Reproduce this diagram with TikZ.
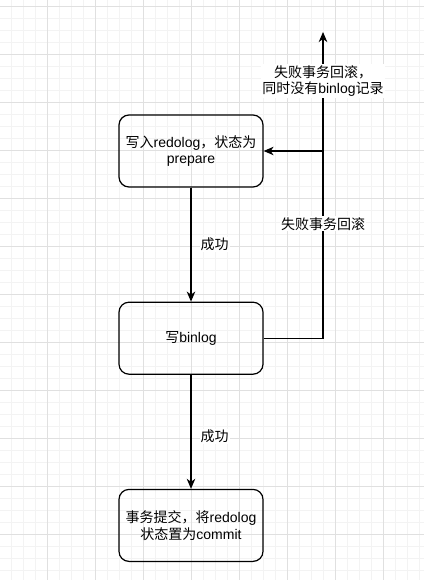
\documentclass[tikz,border=0pt]{standalone}
\usepackage{fontspec}
\setmainfont{Liberation Sans}
\newfontfamily\cjk{Noto Sans CJK SC}
\usetikzlibrary{positioning}
\usetikzlibrary{arrows.meta}
\definecolor{gridmajor}{HTML}{E0E0E0}
\definecolor{gridminor}{HTML}{F3F3F3}

\begin{document}
\begin{tikzpicture}[x=1pt, y=-1pt,
		txbox/.style={draw, line width=1.2pt, rounded corners=10pt,
			minimum width=144pt, minimum height=72pt, align=center,
			font=\fontsize{14}{16.5}\selectfont
		},
		flow/.style={line width=1.3pt, -{Stealth[length=10pt, width=8.5pt, inset=3pt]}},
		note/.style={fill=white, inner sep=1pt, align=center,
			font=\fontsize{14}{16.5}\selectfont
		}]
		
		\useasboundingbox (0,0) rectangle (424,580);
		\fill[white] (0,0) rectangle (424,580);
		
		%grid
		\foreach \gx in {11,23,...,419} \draw[gridminor] (\gx,0) -- (\gx,580);
		\foreach \gy in {6,18,...,578} \draw[gridminor] (0,\gy) -- (424,\gy);
		\foreach \gx in {47,95,...,383} \draw[gridmajor] (\gx,0) -- (\gx,580);
		\foreach \gy in {6,54,...,534} \draw[gridmajor] (0,\gy) -- (424,\gy);
		
		%steps
		\node[txbox] (write) at (191,151) {{\cjk 写入}redolog{\cjk ，状态为}\\prepare};
		\node[txbox, below=114pt of write] (binlog) {{\cjk 写}binlog};
		\node[txbox, below=114pt of binlog] (commit) {{\cjk 事务提交，将}redolog\\{\cjk 状态置为}commit};
		
		%success
		\draw[flow] (write) -- node[note, midway, anchor=west, xshift=8pt] {\cjk 成功} (binlog);
		\draw[flow] (binlog) -- node[note, pos=0.54, anchor=west, xshift=8pt] {\cjk 成功} (commit);
		
		%rollback
		\coordinate (up) at (323,32);
		\coordinate (split) at (up |- write.east);
		\draw[flow] (binlog.east) -| (up)
			node[note, pos=0.687] {\cjk 失败事务回滚}
			node[note, pos=0.92] {\cjk 失败事务回滚，\\{\cjk 同时没有}binlog{\cjk 记录}};
		\draw[flow] (split) -- (write.east);
	\end{tikzpicture}
\end{document}
